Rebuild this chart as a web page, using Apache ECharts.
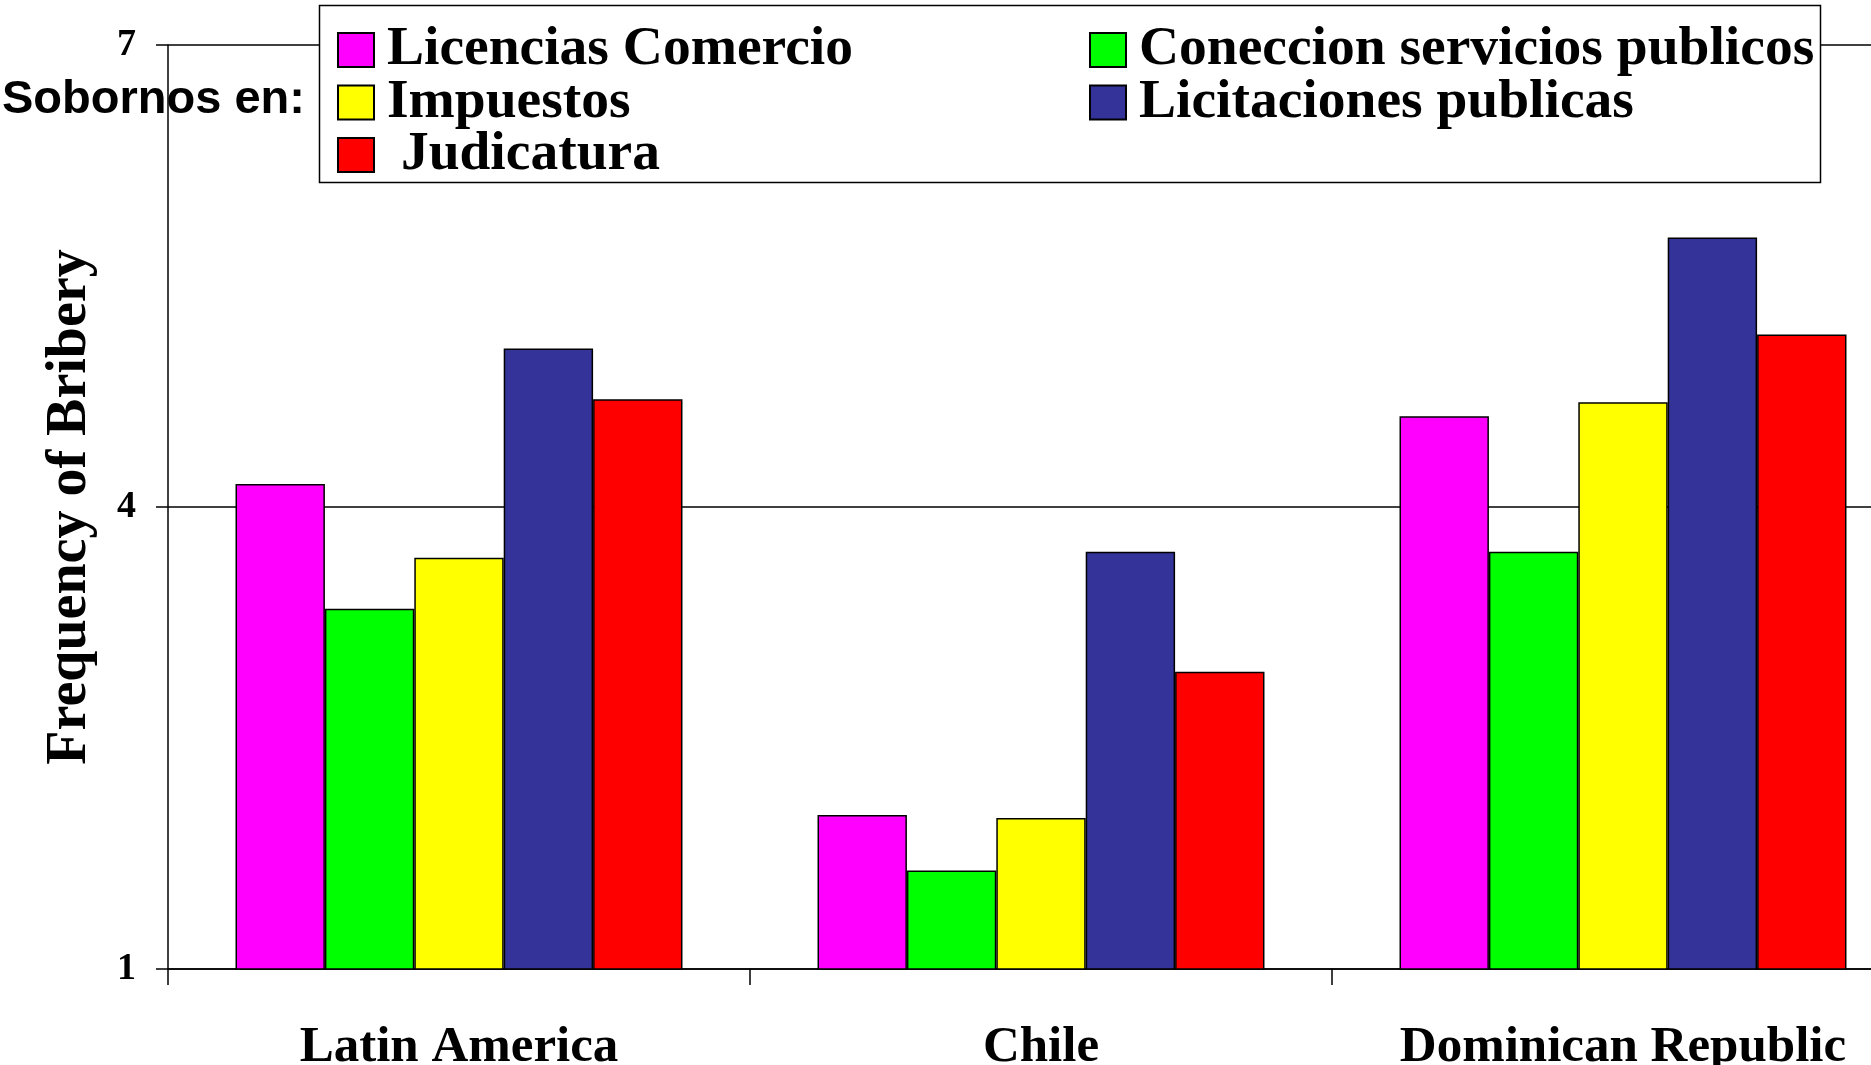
<!DOCTYPE html>
<html>
<head>
<meta charset="utf-8">
<script src="https://cdn.jsdelivr.net/npm/echarts@6/dist/echarts.min.js"></script>
<style>
html,body{margin:0;padding:0;background:#fff;}
#chart{width:1871px;height:1065px;}
</style>
</head>
<body>
<div id="chart"></div>
<script>
const categories = ['Latin America', 'Chile', 'Dominican Republic'];
const licencias = [4.15, 2.00, 4.59];
const coneccion = [3.34, 1.64, 3.71];
const impuestos = [3.67, 1.98, 4.68];
const licitaciones = [5.03, 3.71, 5.75];
const judicatura = [4.70, 2.93, 5.12];
const yMin = 1, yMax = 7, yInterval = 3;

const serif = '"Liberation Serif", "Times New Roman", serif';
const chart = echarts.init(document.getElementById('chart'));

function bar(name, data, color) {
  return {
    name: name, type: 'bar', data: data, clip: true,
    barGap: '0%', barCategoryGap: '23.2%',
    itemStyle: { color: color, borderColor: '#000', borderWidth: 1.5 }
  };
}

const legendCommon = {
  orient: 'vertical', top: 22, padding: 0,
  itemWidth: 36, itemHeight: 34, itemGap: -3.5,
  icon: 'rect', selectedMode: false,
  textStyle: { fontFamily: serif, fontWeight: 'bold', fontSize: 55.5, color: '#000', padding: [0, 0, 0, 8] }
};

chart.setOption({
  animation: false,
  backgroundColor: '#fff',
  grid: { left: 168, top: 45, width: 1746, height: 924, containLabel: false, outerBoundsMode: 'none' },
  legend: [
    Object.assign({}, legendCommon, { left: 337, data: ['Licencias Comercio', 'Impuestos', 'Judicatura'],
      formatter: function (n) { return n === 'Judicatura' ? ' ' + n : n; } }),
    Object.assign({}, legendCommon, { left: 1089, data: ['Coneccion servicios publicos', 'Licitaciones publicas'] })
  ],
  graphic: [
    { type: 'rect', z: 3, shape: { x: 319.5, y: 5.5, width: 1501, height: 177 },
      style: { fill: '#fff', stroke: '#000', lineWidth: 1.5 } },
    { type: 'text', z: 5, x: 2, y: 100,
      style: { text: 'Sobornos en:', font: 'bold 47px "Liberation Sans", Arial, sans-serif', fill: '#000', verticalAlign: 'middle', align: 'left' } }
  ],
  xAxis: {
    type: 'category', data: categories,
    axisLine: { lineStyle: { color: '#000', width: 1.5 } },
    axisTick: { show: true, length: 16, lineStyle: { color: '#000', width: 1.5 } },
    axisLabel: { interval: 0, fontFamily: serif, fontWeight: 'bold', fontSize: 51, color: '#000', margin: 53, lineHeight: 51 }
  },
  yAxis: {
    type: 'value', min: yMin, max: yMax, interval: yInterval,
    name: 'Frequency of Bribery', nameLocation: 'middle', nameGap: 69,
    nameTextStyle: { fontFamily: serif, fontWeight: 'bold', fontSize: 56, color: '#000' },
    axisLine: { show: true, lineStyle: { color: '#000', width: 1.5 } },
    axisTick: { show: true, length: 12, lineStyle: { color: '#000', width: 1.5 } },
    axisLabel: { fontFamily: serif, fontWeight: 'bold', fontSize: 38, color: '#000', margin: 32 },
    splitLine: { show: true, lineStyle: { color: '#000', width: 1.5 } }
  },
  series: [
    bar('Licencias Comercio', licencias, '#FF00FF'),
    bar('Coneccion servicios publicos', coneccion, '#00FF00'),
    bar('Impuestos', impuestos, '#FFFF00'),
    bar('Licitaciones publicas', licitaciones, '#333399'),
    bar('Judicatura', judicatura, '#FF0000')
  ]
});
</script>
</body>
</html>
